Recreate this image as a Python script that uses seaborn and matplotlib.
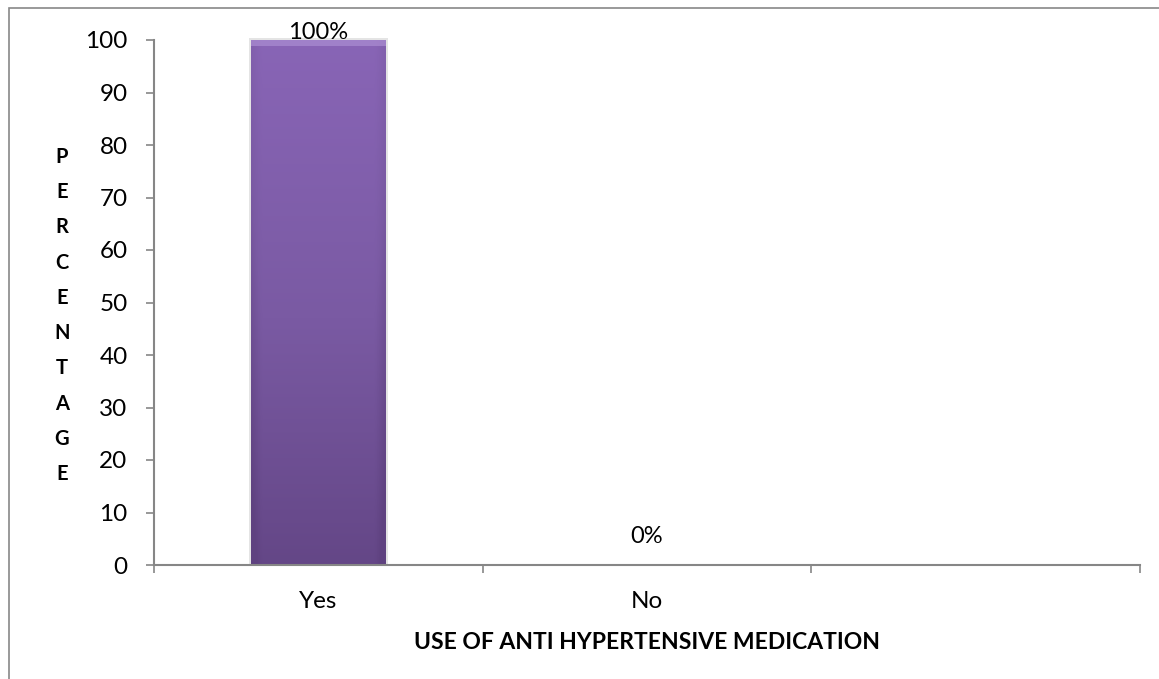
import numpy as np
import pandas as pd
import matplotlib
matplotlib.use("Agg")
import matplotlib.pyplot as plt
from matplotlib.patches import Rectangle
from matplotlib.colors import LinearSegmentedColormap
import seaborn as sns

# Data
categories = ["Yes", "No"]
percentages = [100, 0]
value_labels = ["100%", "0%"]
y_ticks = [0, 10, 20, 30, 40, 50, 60, 70, 80, 90, 100]
x_title = "USE OF ANTI HYPERTENSIVE MEDICATION"
y_title = "PERCENTAGE"

sns.set_theme(style="white")
plt.rcParams["font.family"] = ["Lato", "DejaVu Sans"]

df = pd.DataFrame({"category": categories, "percent": percentages})

W, H = 1159, 679
fig = plt.figure(figsize=(W / 100, H / 100), dpi=100)
ax = fig.add_axes([154 / W, 1 - 565 / H, (1140 - 154) / W, (565 - 40) / H])

sns.barplot(data=df, x="category", y="percent", ax=ax, color="#7A5AA2",
            width=0.41, saturation=1, edgecolor="none")

ax.set_xlim(-0.5, 2.5)
ax.set_ylim(0, 100)

# Gradient fill for the bars
purple = LinearSegmentedColormap.from_list("purp", ["#5F4280", "#7A5AA3", "#8A66B8"])
for patch in ax.patches:
    x0, y0 = patch.get_x(), patch.get_y()
    w, h = patch.get_width(), patch.get_height()
    if h <= 0:
        continue
    vert = np.linspace(0.0, 1.0, 200)[:, None]
    horiz = np.linspace(-1, 1, 60)[None, :]
    edge = np.clip((np.abs(horiz) - 0.85) / 0.15, 0, 1)
    grad = vert * 0.85 + 0.1 - edge * 0.2
    # soft shadow behind the bar
    ax.add_patch(Rectangle((x0 - 0.006, y0), w + 0.012, h + 0.3, facecolor="#E4E4E4",
                           edgecolor="none", zorder=1.5, clip_on=False))
    img = ax.imshow(grad, cmap=purple, vmin=0, vmax=1, origin="lower", aspect="auto",
                    extent=(x0, x0 + w, y0, y0 + h), zorder=2.5)
    img.set_clip_path(patch)
    # light bevel at the top edge
    ax.add_patch(Rectangle((x0, y0 + h - 1.2), w, 1.2, facecolor="#A98BD0",
                           edgecolor="none", alpha=0.75, zorder=2.6))
    ax.set_aspect("auto")

# Value labels
for i, (val, lab) in enumerate(zip(percentages, value_labels)):
    pad = 0.7 if val > 0 else 16
    ax.annotate(lab, (i, val), xytext=(0, pad), textcoords="offset points",
                ha="center", va="baseline", fontsize=17, color="black", zorder=4,
                annotation_clip=False)

# Axes styling
axis_color = "#868686"
for side in ["top", "right"]:
    ax.spines[side].set_visible(False)
for side in ["left", "bottom"]:
    ax.spines[side].set_color(axis_color)
    ax.spines[side].set_linewidth(1.5)

ax.set_yticks(y_ticks)
ax.tick_params(axis="y", which="major", left=True, length=6, width=1.2, color=axis_color,
               labelsize=17.5, pad=13, labelcolor="black")
ax.set_xticks([0, 1])
ax.set_xticklabels(categories)
ax.set_xticks([-0.5, 0.5, 1.5, 2.5], minor=True)
ax.tick_params(axis="x", which="major", bottom=False, labelsize=17.5, pad=12.5, labelcolor="black")
ax.tick_params(axis="x", which="minor", bottom=True, length=6, width=1.2, color=axis_color)

ax.set_xlabel(x_title, fontsize=16.5, fontweight="bold", labelpad=14.5, color="black")
ax.set_ylabel("")
ax.grid(False)

# Stacked vertical axis title, one letter per row
top_y, bottom_y = 157, 474
step = (bottom_y - top_y) / (len(y_title) - 1)
for k, ch in enumerate(y_title):
    fig.text(62 / W, 1 - (top_y + k * step) / H, ch, ha="center", va="center",
             fontsize=14.5, fontweight="bold", color="black")

# Chart frame
fig.patches.append(Rectangle((9 / W, -0.05), 1.2, 1 - 8 / H + 0.05,
                             transform=fig.transFigure, fill=False,
                             edgecolor="#888888", linewidth=1.2))

fig.savefig("out.png", dpi=100)
